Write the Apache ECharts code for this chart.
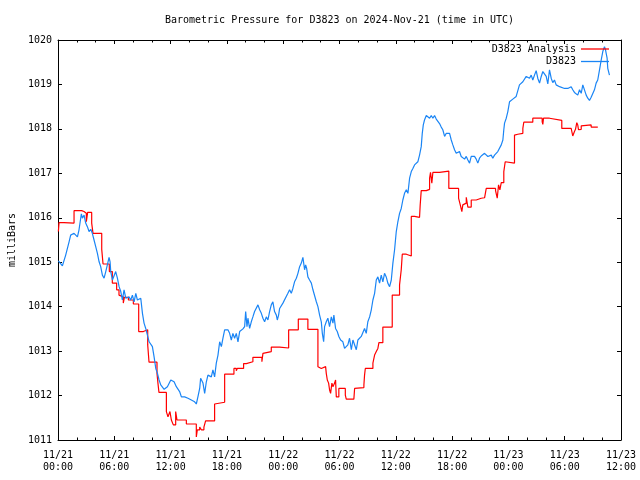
<!DOCTYPE html>
<html>
<head>
<meta charset="utf-8">
<script src="https://cdn.jsdelivr.net/npm/echarts@6/dist/echarts.min.js"></script>
<style>html,body{margin:0;padding:0;background:#fff}#c{width:640px;height:480px}</style>
</head>
<body>
<div id="c"></div>
<script>
// Hours since 2024-11-21 00:00 UTC
const blueHours = [0.04,0.47,0.82,1.0,1.18,1.35,1.71,1.89,2.07,2.24,2.49,2.6,2.78,2.95,3.13,3.31,3.49,3.66,3.84,4.02,4.2,4.38,4.55,4.73,4.91,5.09,5.26,5.44,5.55,5.62,5.8,5.97,6.15,6.33,6.51,6.69,6.86,7.04,7.22,7.4,7.57,7.75,7.93,8.11,8.29,8.46,8.64,8.82,9.0,9.17,9.35,9.53,9.71,9.88,10.06,10.24,10.42,10.6,10.77,10.95,11.13,11.31,11.48,11.66,11.84,12.02,12.2,12.37,
12.61,12.96,13.15,13.5,13.85,14.21,14.56,14.74,14.91,15.1,15.2,15.45,15.63,15.81,15.98,16.16,16.34,16.51,16.69,16.87,17.05,17.23,17.41,17.58,17.76,17.94,18.11,18.29,18.47,18.64,18.82,19.0,19.18,19.36,19.54,19.71,19.89,20.0,20.14,20.24,20.42,20.6,20.77,20.95,21.13,21.31,21.49,21.67,21.84,22.02,22.2,22.37,22.55,22.73,22.9,23.08,23.27,23.37,23.51,23.62,23.8,23.97,24.15,
24.5,24.68,24.86,25.03,25.21,25.4,25.57,25.75,25.93,26.1,26.28,26.39,26.5,26.63,26.81,27.0,27.17,27.35,27.53,27.7,27.88,28.06,28.17,28.31,28.41,28.59,28.76,28.94,29.13,29.3,29.4,29.58,29.76,29.93,30.12,30.36,30.54,30.72,30.89,31.07,31.26,31.43,31.61,31.79,31.96,32.14,32.32,32.49,32.67,32.85,33.02,33.21,33.39,33.56,33.74,33.92,34.09,34.27,34.45,34.62,34.8,34.98,35.15,35.34,35.52,35.69,35.87,
36.05,36.22,36.4,36.58,36.75,36.93,37.12,37.29,37.47,37.65,37.82,38.0,38.18,38.35,38.53,38.71,38.82,38.93,39.06,39.25,39.42,39.6,39.78,39.95,40.13,40.31,40.48,40.66,40.84,41.01,41.2,41.38,41.55,41.73,41.91,42.08,42.26,42.44,42.61,42.79,42.97,43.14,43.33,43.51,43.68,43.86,44.04,44.21,44.39,44.57,44.74,44.92,45.1,45.27,45.46,45.64,45.81,45.99,46.17,46.34,46.52,46.7,46.87,47.05,47.24,47.41,47.51,
47.59,47.77,47.94,48.12,48.3,48.47,48.65,48.83,49.0,49.18,49.37,49.54,49.72,49.9,50.07,50.25,50.43,50.6,50.78,50.96,51.13,51.32,51.5,51.67,51.85,52.03,52.2,52.38,52.56,52.73,52.91,53.09,53.26,53.45,53.63,53.98,54.16,54.33,54.51,54.69,54.86,55.04,55.22,55.39,55.58,55.76,55.93,56.11,56.29,56.46,56.64,56.82,56.99,57.17,57.35,57.52,57.71,57.89,58.06,58.24,58.34,58.42,58.52,58.59,58.77];
const bluePressure = [1015.03,1014.92,1015.16,1015.20,1015.46,1015.61,1015.65,1015.69,1015.57,1015.73,1016.09,1015.99,1016.06,1015.88,1015.80,1015.69,1015.74,1015.65,1015.50,1015.35,1015.20,1015.01,1014.90,1014.71,1014.64,1014.79,1014.94,1015.11,1015.01,1014.79,1014.60,1014.56,1014.79,1014.64,1014.45,1014.34,1014.15,1014.38,1014.19,1014.15,1014.22,1014.15,1014.26,1014.11,1014.30,1014.15,1014.15,1014.19,1013.85,1013.63,1013.51,1013.36,1013.21,1013.18,1013.10,1012.87,1012.61,1012.50,1012.35,1012.24,1012.20,1012.14,1012.13,1012.20,1012.16,1012.35,1012.39,1012.31,
1012.20,1012.09,1011.97,1011.97,1011.94,1011.90,1011.86,1011.81,1011.97,1012.16,1012.39,1012.28,1012.05,1012.31,1012.46,1012.50,1012.42,1012.58,1012.42,1012.73,1012.91,1013.21,1013.10,1013.29,1013.48,1013.44,1013.48,1013.40,1013.25,1013.40,1013.29,1013.40,1013.21,1013.44,1013.48,1013.50,1013.55,1013.89,1013.55,1013.74,1013.51,1013.66,1013.77,1013.89,1013.85,1014.04,1013.93,1013.85,1013.74,1013.66,1013.77,1013.70,1013.89,1014.04,1014.11,1013.89,1013.81,1013.70,1013.81,1013.96,1014.00,1014.08,1014.11,
1014.30,1014.38,1014.30,1014.41,1014.56,1014.64,1014.75,1014.90,1014.98,1015.11,1014.83,1014.94,1014.86,1014.67,1014.60,1014.53,1014.38,1014.34,1014.11,1014.00,1013.81,1013.66,1013.40,1013.21,1013.55,1013.66,1013.74,1013.55,1013.77,1013.63,1013.81,1013.51,1013.44,1013.33,1013.25,1013.21,1013.06,1013.03,1013.14,1013.29,1013.03,1013.25,1013.29,1013.03,1013.25,1013.29,1013.33,1013.36,1013.51,1013.40,1013.66,1013.77,1013.93,1014.15,1014.30,1014.60,1014.67,1014.53,1014.71,1014.56,1014.75,1014.67,1014.53,1014.45,1014.60,1014.98,1015.28,
1015.69,1015.91,1016.10,1016.21,1016.40,1016.55,1016.63,1016.55,1016.89,1017.04,1017.11,1017.19,1017.15,1017.26,1017.41,1017.60,1017.90,1018.09,1018.20,1018.30,1018.27,1018.24,1018.30,1018.24,1018.30,1018.22,1018.22,1018.12,1018.04,1017.98,1017.83,1017.90,1017.90,1017.90,1017.75,1017.64,1017.53,1017.45,1017.41,1017.49,1017.38,1017.34,1017.32,1017.38,1017.30,1017.23,1017.38,1017.34,1017.38,1017.32,1017.23,1017.34,1017.39,1017.41,1017.45,1017.41,1017.38,1017.39,1017.41,1017.34,1017.41,1017.45,1017.49,1017.53,1017.64,1017.75,1017.98,
1018.13,1018.24,1018.39,1018.61,1018.64,1018.67,1018.69,1018.73,1018.73,1018.99,1018.99,1019.06,1019.03,1019.18,1019.21,1019.14,1019.21,1019.10,1019.21,1019.31,1019.14,1019.03,1019.18,1019.29,1019.31,1019.18,1019.01,1019.33,1019.14,1019.04,1019.10,1018.99,1018.99,1018.95,1018.91,1018.91,1018.95,1018.91,1018.88,1018.95,1018.88,1018.82,1018.84,1018.76,1018.88,1018.80,1018.99,1018.99,1018.76,1018.69,1018.64,1018.71,1018.74,1018.88,1019.03,1019.10,1019.33,1019.55,1019.74,1019.85,1019.79,1019.70,1019.59,1019.36,1019.21];

// Analysis: each value holds from its hour until the next one
const redHours = [0.04,0.11,0.64,1.71,2.52,2.77,3.02,3.16,3.59,3.73,4.66,4.8,5.47,5.79,6.25,6.5,6.68,6.96,7.07,7.5,8.03,8.6,9.1,9.56,9.7,10.55,10.65,10.76,11.55,11.72,11.93,12.08,12.29,12.54,12.68,13.68,14.74,14.85,15.1,15.28,15.55,15.73,16.69,16.87,17.76,18.75,19.0,19.11,19.78,20.07,20.77,21.73,21.84,22.02,22.73,23.62,24.58,25.61,26.63,27.7,27.88,28.06,28.52,28.59,28.7,28.84,28.94,29.05,29.19,29.3,29.48,29.58,29.66,29.93,30.62,30.72,31.53,31.61,31.79,32.6,32.67,32.75,33.56,33.74,33.92,34.09,34.2,34.62,35.62,36.4,36.58,36.69,37.12,37.65,38.0,38.18,38.53,38.6,38.71,39.25,39.42,39.6,39.7,39.84,39.95,40.66,41.65,42.69,42.87,43.04,43.14,43.33,43.51,43.68,44.04,44.57,45.1,45.46,45.64,46.63,46.81,46.95,47.09,47.24,47.51,47.66,47.79,48.65,48.83,49.0,49.54,49.64,50.6,51.6,51.67,51.74,52.03,52.2,52.38,52.56,53.69,54.69,54.86,55.04,55.15,55.29,55.39,55.47,55.58,55.76,55.93,56.82,57.53];
const redPressure = [1015.69,1015.89,1015.88,1016.16,1016.14,1016.10,1015.91,1016.12,1015.88,1015.65,1015.29,1014.96,1014.79,1014.53,1014.38,1014.26,1014.22,1014.08,1014.21,1014.15,1014.06,1013.44,1013.48,1013.14,1012.75,1012.50,1012.28,1012.07,1011.64,1011.52,1011.64,1011.45,1011.34,1011.64,1011.45,1011.36,1011.07,1011.23,1011.29,1011.23,1011.29,1011.43,1011.81,1011.85,1012.48,1012.61,1012.56,1012.61,1012.72,1012.76,1012.86,1012.76,1012.95,1012.99,1013.09,1013.07,1013.48,1013.72,1013.49,1012.65,1012.61,1012.65,1012.67,1012.50,1012.35,1012.28,1012.13,1012.05,1012.28,1012.20,1012.28,1012.35,1011.97,1012.16,1012.01,1011.92,1011.90,1012.16,1012.18,1012.24,1012.46,1012.61,1012.73,1012.91,1012.99,1013.06,1013.19,1013.54,1014.26,1014.49,1014.83,1015.18,1015.14,1016.03,1015.99,1016.01,1015.99,1016.29,1016.61,1016.63,1016.64,1016.89,1017.02,1016.78,1017.02,1017.05,1016.66,1016.44,1016.29,1016.14,1016.29,1016.33,1016.46,1016.24,1016.40,1016.44,1016.45,1016.44,1016.66,1016.61,1016.44,1016.74,1016.63,1016.79,1017.04,1017.26,1017.23,1017.86,1017.88,1017.90,1018.01,1018.15,1018.24,1018.16,1018.10,1018.24,1018.26,1018.24,1018.20,1018.19,1018.01,1017.98,1017.84,1017.94,1017.99,1018.14,1018.09,1017.98,1017.99,1018.07,1018.09,1018.04,1018.04];

const xTickLabels = ['11/21\n00:00','11/21\n06:00','11/21\n12:00','11/21\n18:00','11/22\n00:00','11/22\n06:00','11/22\n12:00','11/22\n18:00','11/23\n00:00','11/23\n06:00','11/23\n12:00'];
const titleText = 'Barometric Pressure for D3823 on 2024-Nov-21 (time in UTC)';
const yAxisTitle = 'milliBars';
const seriesNames = ['D3823 Analysis', 'D3823'];

const FONT = "'DejaVu Sans Mono', 'Liberation Mono', monospace";
const RED = '#ff0000', BLUE = '#1a85f5';

const zip = (a, b) => a.map((v, i) => [v, b[i]]);

const tickCommon = { show: true, inside: true, length: 4, lineStyle: { color: '#000', width: 1 } };
const minorCommon = { show: true, splitNumber: 3, length: 2.5, lineStyle: { color: '#000', width: 1 } };
const lineCommon = { show: true, onZero: false, lineStyle: { color: '#000', width: 1 } };
const legendCommon = { right: 31, padding: 0, align: 'right', icon: 'rect', itemWidth: 28, itemHeight: 1.3,
  selectedMode: false, textStyle: { fontFamily: FONT, fontSize: 10, color: '#000' } };

const chart = echarts.init(document.getElementById('c'), null, { renderer: 'canvas' });
chart.setOption({
  animation: false,
  backgroundColor: '#fff',
  grid: { left: 58, right: 19, top: 40, bottom: 40, containLabel: false, outerBoundsMode: 'none' },
  graphic: [{
    type: 'text', x: 339.5, y: 20,
    style: { text: titleText, font: '10px ' + FONT, fill: '#000', align: 'center', verticalAlign: 'middle' }
  }],
  legend: [
    Object.assign({ data: [seriesNames[0]], top: 44 }, legendCommon),
    Object.assign({ data: [seriesNames[1]], top: 56.5 }, legendCommon)
  ],
  xAxis: [
    { type: 'value', position: 'bottom', min: 0, max: 60, interval: 6,
      axisLine: lineCommon, axisTick: tickCommon, minorTick: minorCommon, splitLine: { show: false },
      axisLabel: { margin: 9, fontFamily: FONT, fontSize: 10, color: '#000', lineHeight: 12,
        formatter: v => xTickLabels[Math.round(v / 6)] } },
    { type: 'value', position: 'top', min: 0, max: 60, interval: 6,
      axisLine: lineCommon, axisTick: tickCommon, minorTick: minorCommon, splitLine: { show: false },
      axisLabel: { show: false } }
  ],
  yAxis: [
    { type: 'value', position: 'left', min: 1011, max: 1020, interval: 1,
      axisLine: lineCommon, axisTick: tickCommon, splitLine: { show: false },
      axisLabel: { margin: 6, fontFamily: FONT, fontSize: 10, color: '#000', formatter: v => String(v) },
      name: yAxisTitle, nameLocation: 'middle', nameGap: 38,
      nameTextStyle: { fontFamily: FONT, fontSize: 10, color: '#000' } },
    { type: 'value', position: 'right', min: 1011, max: 1020, interval: 1,
      axisLine: lineCommon, axisTick: tickCommon, splitLine: { show: false },
      axisLabel: { show: false } }
  ],
  series: [
    { name: seriesNames[0], type: 'line', step: 'end', data: zip(redHours, redPressure),
      symbol: 'none', color: RED, lineStyle: { color: RED, width: 1.2 }, z: 2 },
    { name: seriesNames[1], type: 'line', data: zip(blueHours, bluePressure),
      symbol: 'none', color: BLUE, lineStyle: { color: BLUE, width: 1.2 }, z: 3 }
  ]
});
</script>
</body>
</html>
